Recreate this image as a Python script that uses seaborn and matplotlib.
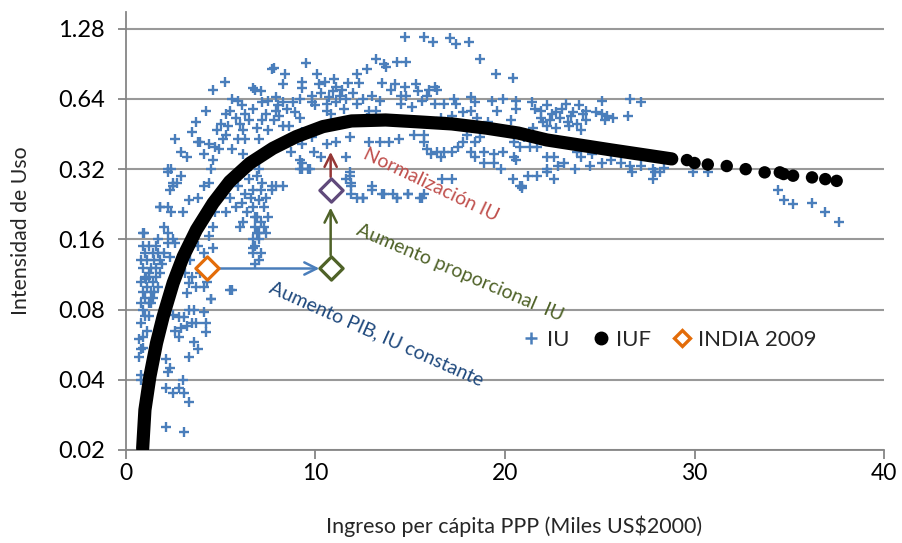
import matplotlib
matplotlib.use("Agg")
import matplotlib.pyplot as plt
from matplotlib.lines import Line2D
import seaborn as sns
import pandas as pd

# ---------------- data ----------------
iu_x = [
    0.9, 1.0, 1.2, 0.8, 1.1, 0.9, 1.3, 1.0, 1.2, 0.8, 1.1, 0.9, 1.3, 1.0, 0.8, 1.2, 0.9, 1.0, 0.8, 1.1, 0.7, 0.9, 0.7, 0.8,
    0.9, 0.8, 0.8,
    2.1, 2.3, 2.2, 2.1, 2.5, 2.8, 3.0, 3.05, 3.3, 2.1, 3.05,
    3.3, 3.6, 3.8, 2.6, 2.8, 2.9, 3.2, 3.5, 3.7, 4.2, 4.2, 4.1, 3.6, 3.3, 3.05, 2.8, 2.5,
    1.05, 1.2, 1.6, 1.9, 1.7, 2.3, 2.2, 2.6, 3.3, 3.2, 3.5, 3.7, 4.1, 4.5, 5.6, 6.8, 6.7, 6.7, 4.6, 4.1,
    1.4, 1.6, 1.5, 1.8, 1.4, 1.6, 1.8, 2.0, 1.5, 1.3, 1.7, 1.2, 1.4,
    3.4, 3.9, 4.3, 3.1,
    6.8, 7.1, 7.3, 6.9, 7.0, 6.8, 7.1, 7.0, 5.5, 4.5,
    5.2, 4.6, 4.2, 3.7, 3.5, 3.8, 2.6, 2.9, 3.2, 2.2, 2.4, 2.9, 2.7, 2.5, 1.8, 2.2, 2.4, 2.0, 2.2, 0.95, 1.7, 2.5,
    3.0, 3.3, 3.8, 4.1, 4.4, 4.5, 4.1, 4.4, 4.7, 4.6, 4.9, 5.3, 5.1, 5.6, 5.9, 6.2, 5.3, 5.5, 5.8, 5.6, 5.9, 6.3,
    6.7, 6.8, 7.1, 6.7, 7.2, 7.5, 7.7, 7.2, 7.5, 7.0, 6.2, 6.3, 5.9, 6.3, 6.7, 7.0, 7.4, 6.7, 5.8, 5.3, 6.2, 7.0,
    7.4, 6.7, 4.7, 4.6, 4.4, 3.8, 7.7, 7.5,
    6.0, 6.5, 6.9, 7.2, 6.6, 7.0, 6.4, 6.9, 7.3, 6.1, 6.6, 7.1, 5.5, 6.0, 6.8,
    5.0, 6.0, 6.5, 6.9, 7.4, 6.1, 4.8, 5.4,
    0.9, 1.8, 2.3, 2.5, 2.2, 3.9,
    9.5, 7.8, 8.4, 8.3, 9.3, 9.3, 10.1, 10.2, 10.5, 11.1, 11.4, 12.2, 12.3, 12.7, 13.2, 13.6, 13.5, 13.0, 13.4,
    12.2, 11.6, 11.1, 10.7, 10.6, 10.6, 9.8, 9.8, 9.2, 8.8, 8.3, 7.9, 7.9, 8.6, 8.3, 9.2, 9.3, 9.8, 9.3, 10.6,
    11.1, 11.8, 11.6, 9.3, 9.2, 9.6, 7.9, 8.3, 7.7, 11.8, 11.6, 11.9, 12.2, 12.5, 13.0, 13.5, 14.1, 12.8, 13.4,
    13.9, 12.7, 13.2, 12.8,
    10.3, 10.9, 11.3, 10.0, 11.5, 10.8, 11.0, 11.7, 12.0, 12.5, 8.0, 8.5, 7.8, 8.9, 8.1, 8.0, 8.7, 9.9, 10.3,
    11.9, 12.5, 13.0, 13.6, 14.3, 14.9, 15.6, 11.8, 11.9, 9.2, 9.3, 9.7, 13.7,
    14.7, 15.7, 16.2, 17.1, 17.4, 18.1, 18.7, 14.3, 14.8, 19.5, 20.4, 14.2, 14.7, 15.3, 16.3, 16.4, 14.8, 15.4,
    15.9, 17.3, 18.2, 18.4, 19.3, 19.9, 20.6, 19.6, 20.3, 14.5, 15.1, 16.3, 16.8, 17.4, 16.6, 17.2, 17.8, 18.2,
    18.5, 19.1, 15.2, 15.7, 14.4, 15.7, 18.0, 18.7, 17.8, 18.4, 15.9, 16.1, 16.4, 16.8, 17.2, 17.5, 16.6, 18.2,
    18.9, 18.4, 18.9, 19.4, 19.9, 20.5, 19.4, 19.8, 16.7, 17.2, 20.4, 20.8, 14.3, 14.9, 15.5, 15.7,
    14.0, 15.6, 16.0, 14.5,
    25.1, 26.6, 27.2, 21.4, 20.6, 21.6, 22.2, 23.2, 23.9, 22.7, 21.9, 22.4, 22.9, 23.5, 24.3, 24.3, 25.1, 25.4,
    25.7, 26.5, 22.2, 22.7, 23.4, 24.0, 21.5, 20.8, 21.3, 21.7, 20.6, 22.2, 22.6, 23.8, 24.0, 24.6, 23.1, 22.2,
    22.8, 23.7, 24.5, 25.1, 25.6, 26.1, 26.6, 27.2, 27.8, 28.2, 27.8, 21.2, 21.7, 22.2, 22.6, 20.9, 20.9,
    21.9, 22.5, 23.0, 23.6, 23.3, 22.0, 24.1, 23.8, 24.8, 25.3, 21.0, 21.8, 20.5,
    26.7, 27.9, 28.4,
    29.9, 30.7, 34.4, 34.7, 35.2, 36.2, 36.9, 37.6,
]
iu_y = [
    0.15, 0.14, 0.15, 0.13, 0.13, 0.12, 0.12, 0.11, 0.11, 0.105, 0.10, 0.095, 0.095, 0.09, 0.085, 0.085, 0.08, 0.075, 0.07, 0.065, 0.06, 0.055, 0.05, 0.04,
    0.061, 0.054, 0.042,
    0.049, 0.045, 0.043, 0.037, 0.035, 0.037, 0.04, 0.035, 0.032, 0.025, 0.024,
    0.050, 0.058, 0.054, 0.065, 0.061, 0.067, 0.068, 0.07, 0.07, 0.07, 0.064, 0.078, 0.08, 0.08, 0.074, 0.074, 0.076,
    0.108, 0.115, 0.12, 0.126, 0.14, 0.134, 0.155, 0.155, 0.104, 0.094, 0.11, 0.10, 0.10, 0.089, 0.097, 0.126, 0.14, 0.147, 0.147, 0.14,
    0.14, 0.15, 0.13, 0.13, 0.105, 0.11, 0.115, 0.14, 0.095, 0.085, 0.10, 0.075, 0.09,
    0.13, 0.115, 0.105, 0.115,
    0.20, 0.19, 0.18, 0.17, 0.16, 0.15, 0.14, 0.13, 0.097, 0.089,
    0.76, 0.70, 0.57, 0.51, 0.46, 0.42, 0.43, 0.38, 0.36, 0.32, 0.32, 0.30, 0.28, 0.27, 0.22, 0.22, 0.21, 0.18, 0.17, 0.17, 0.16, 0.16,
    0.21, 0.235, 0.24, 0.27, 0.28, 0.32, 0.37, 0.41, 0.40, 0.35, 0.39, 0.45, 0.43, 0.39, 0.43, 0.37, 0.55, 0.57, 0.53, 0.64, 0.63, 0.55,
    0.58, 0.70, 0.69, 0.71, 0.62, 0.63, 0.86, 0.52, 0.47, 0.43, 0.47, 0.43, 0.27, 0.25, 0.26, 0.235, 0.24, 0.22, 0.22, 0.21, 0.19, 0.17,
    0.17, 0.16, 0.21, 0.18, 0.165, 0.15, 0.27, 0.20,
    0.30, 0.29, 0.30, 0.28, 0.33, 0.32, 0.21, 0.20, 0.22, 0.23, 0.24, 0.26, 0.24, 0.18, 0.18,
    0.50, 0.50, 0.52, 0.48, 0.55, 0.60, 0.47, 0.49,
    0.17, 0.22, 0.26, 0.28, 0.31, 0.42,
    0.91, 0.87, 0.82, 0.74, 0.76, 0.71, 0.82, 0.74, 0.76, 0.72, 0.70, 0.82, 0.75, 0.86, 0.95, 0.90, 0.75, 0.66, 0.63,
    0.61, 0.64, 0.62, 0.65, 0.61, 0.57, 0.62, 0.66, 0.64, 0.62, 0.62, 0.65, 0.57, 0.49, 0.49, 0.53, 0.46, 0.44, 0.41, 0.41,
    0.42, 0.44, 0.36, 0.34, 0.32, 0.32, 0.27, 0.27, 0.26, 0.31, 0.29, 0.27, 0.24, 0.24, 0.27, 0.25, 0.25, 0.42, 0.42,
    0.42, 0.53, 0.57, 0.57,
    0.68, 0.69, 0.66, 0.60, 0.58, 0.55, 0.78, 0.75, 0.68, 0.64, 0.60, 0.58, 0.52, 0.56, 0.54, 0.40, 0.38, 0.38, 0.36,
    0.25, 0.24, 0.26, 0.25, 0.24, 0.25, 0.24, 0.30, 0.28, 0.35, 0.32, 0.32, 0.88,
    1.18, 1.18, 1.12, 1.17, 1.10, 1.12, 0.95, 0.92, 0.92, 0.82, 0.79, 0.74, 0.72, 0.74, 0.72, 0.70, 0.66, 0.69,
    0.66, 0.64, 0.65, 0.62, 0.63, 0.64, 0.63, 0.57, 0.52, 0.61, 0.59, 0.61, 0.61, 0.61, 0.53, 0.54, 0.56, 0.57,
    0.53, 0.51, 0.45, 0.45, 0.43, 0.42, 0.45, 0.44, 0.42, 0.42, 0.39, 0.37, 0.38, 0.38, 0.38, 0.40, 0.36, 0.38,
    0.38, 0.36, 0.34, 0.37, 0.38, 0.36, 0.34, 0.32, 0.29, 0.29, 0.29, 0.27, 0.24, 0.25, 0.24, 0.25,
    0.70, 0.63, 0.70, 0.66,
    0.63, 0.64, 0.62, 0.62, 0.58, 0.58, 0.60, 0.61, 0.60, 0.56, 0.53, 0.52, 0.53, 0.54, 0.57, 0.52, 0.55, 0.54,
    0.53, 0.54, 0.49, 0.48, 0.49, 0.47, 0.48, 0.40, 0.40, 0.40, 0.35, 0.36, 0.36, 0.38, 0.36, 0.37, 0.34, 0.32,
    0.33, 0.32, 0.33, 0.34, 0.35, 0.34, 0.33, 0.33, 0.32, 0.31, 0.29, 0.30, 0.30, 0.31, 0.29, 0.27, 0.265,
    0.57, 0.55, 0.58, 0.56, 0.51, 0.51, 0.55, 0.50, 0.56, 0.52, 0.44, 0.43, 0.42,
    0.31, 0.31, 0.325,
    0.31, 0.31, 0.26, 0.236, 0.226, 0.23, 0.21, 0.19,
]

# IUF fitted curve: dense part and sparse dots
iuf_dense_x = [0.88, 1.0, 1.26, 1.61, 1.96, 2.49, 3.02, 3.72, 4.6, 5.47, 6.53, 7.75, 8.98, 10.39,
               11.9, 13.7, 15.5, 17.2, 19.0, 20.7, 22.2, 25.6, 28.8]
iuf_dense_y = [0.0203, 0.0297, 0.0412, 0.0574, 0.0746, 0.104, 0.135, 0.176, 0.229, 0.283, 0.339, 0.393,
               0.441, 0.487, 0.515, 0.52, 0.51, 0.50, 0.48, 0.457, 0.427, 0.387, 0.354]
iuf_dots_x = [29.6, 30.0, 30.7, 31.7, 32.7, 33.7, 34.5, 34.7, 35.2, 36.2, 36.9, 37.5]
iuf_dots_y = [0.35, 0.34, 0.335, 0.33, 0.32, 0.31, 0.31, 0.305, 0.30, 0.295, 0.29, 0.285]

# INDIA 2009 and hypothetical shifts
india_x, india_y = [4.3], [0.12]
prop_x, prop_y = [10.8], [0.12]      # Aumento PIB, IU constante
norm_x, norm_y = [10.8], [0.26]      # Aumento proporcional IU

y_ticks = [0.02, 0.04, 0.08, 0.16, 0.32, 0.64, 1.28]
y_tick_labels = ["0.02", "0.04", "0.08", "0.16", "0.32", "0.64", "1.28"]
x_ticks = [0, 10, 20, 30, 40]

# ---------------- style ----------------
sns.set_theme(style="white")
plt.rcParams["font.family"] = ["Lato", "DejaVu Sans"]

BLUE = "#4A7EBB"
ORANGE = "#E36C09"
GREEN = "#4F6228"
PURPLE = "#604A7B"
RED = "#C0504D"
DARKBLUE = "#1F497D"
GRID = "#999999"

fig = plt.figure(figsize=(9.03, 5.43), dpi=100)
ax = fig.add_axes([0.1395, 0.1713, 0.8395, 0.8066])

df_iu = pd.DataFrame({"x": iu_x, "y": iu_y})
sns.scatterplot(data=df_iu, x="x", y="y", marker="+", s=60, color=BLUE, linewidth=1.7, ax=ax, zorder=3)

df_curve = pd.DataFrame({"x": iuf_dense_x, "y": iuf_dense_y})
sns.lineplot(data=df_curve, x="x", y="y", sort=False, color="black", lw=9.5, ax=ax, zorder=4,
             solid_capstyle="round", solid_joinstyle="round")
df_dots = pd.DataFrame({"x": iuf_dots_x, "y": iuf_dots_y})
sns.scatterplot(data=df_dots, x="x", y="y", s=80, color="black", edgecolor="none", ax=ax, zorder=4)

# arrows
ax.annotate("", xy=(prop_x[0] - 0.45, india_y[0]), xytext=(india_x[0] + 0.5, india_y[0]),
            arrowprops=dict(arrowstyle="->", color=BLUE, lw=1.8, mutation_scale=22), zorder=5)
ax.annotate("", xy=(prop_x[0], 0.225), xytext=(prop_x[0], prop_y[0] * 1.11),
            arrowprops=dict(arrowstyle="->", color=GREEN, lw=1.8, mutation_scale=22), zorder=5)
ax.annotate("", xy=(norm_x[0], 0.39), xytext=(norm_x[0], norm_y[0] * 1.11),
            arrowprops=dict(arrowstyle="->", color="#953735", lw=1.8, mutation_scale=22), zorder=5)

sns.scatterplot(x=india_x, y=india_y, marker="D", s=140, facecolor="white", edgecolor=ORANGE,
                linewidth=2.3, ax=ax, zorder=6)
sns.scatterplot(x=prop_x, y=prop_y, marker="D", s=140, facecolor="white", edgecolor=GREEN,
                linewidth=2.3, ax=ax, zorder=6)
sns.scatterplot(x=norm_x, y=norm_y, marker="D", s=140, facecolor="white", edgecolor=PURPLE,
                linewidth=2.3, ax=ax, zorder=6)

# annotation texts
ax.text(16.1, 0.274, "Normalización IU", color=RED, fontsize=14, rotation=-25.5,
        ha="center", va="center", rotation_mode="anchor", zorder=7)
ax.text(17.6, 0.115, "Aumento proporcional  IU", color=GREEN, fontsize=14, rotation=-23,
        ha="center", va="center", rotation_mode="anchor", zorder=7)
ax.text(13.2, 0.0629, "Aumento PIB, IU constante", color=DARKBLUE, fontsize=14, rotation=-24,
        ha="center", va="center", rotation_mode="anchor", zorder=7)

# axes
ax.set_yscale("log", base=2)
ax.set_ylim(0.02, 1.51)
ax.set_xlim(0, 40)
ax.set_yticks(y_ticks)
ax.set_yticklabels(y_tick_labels)
ax.minorticks_off()
ax.set_xticks(x_ticks)
ax.grid(axis="y", color=GRID, lw=1.5)
ax.grid(axis="x", visible=False)
for s in ["top", "right"]:
    ax.spines[s].set_visible(False)
for s in ["left", "bottom"]:
    ax.spines[s].set_color("#868686")
    ax.spines[s].set_linewidth(1.3)
ax.tick_params(axis="y", which="major", direction="out", length=6, width=1.3, color="#868686",
               labelsize=17, labelcolor="black", pad=9, left=True)
ax.tick_params(axis="x", which="major", direction="out", length=6.5, width=1.3, color="#868686",
               labelsize=16.5, labelcolor="black", pad=3, bottom=True)
ax.set_xlabel("Ingreso per cápita PPP (Miles US$2000)", fontsize=15.5)
ax.xaxis.set_label_coords(0.512, -0.15)
ax.set_ylabel("Intensidad de Uso", fontsize=15.3)
ax.yaxis.set_label_coords(-0.125, 0.5)

handles = [
    Line2D([], [], marker="+", color=BLUE, linestyle="none", markersize=9, markeredgewidth=1.8),
    Line2D([], [], marker="o", color="black", linestyle="none", markersize=9),
    Line2D([], [], marker="D", markerfacecolor="white", markeredgecolor=ORANGE, linestyle="none",
           markersize=8.5, markeredgewidth=2.4),
]
ax.legend(handles, ["IU", "IUF", "INDIA 2009"], loc="center", bbox_to_anchor=(0.714, 0.251), ncol=3,
          frameon=False, fontsize=16, handletextpad=0.1, columnspacing=0.8, handlelength=1.2)

fig.savefig("out.png", dpi=100)
